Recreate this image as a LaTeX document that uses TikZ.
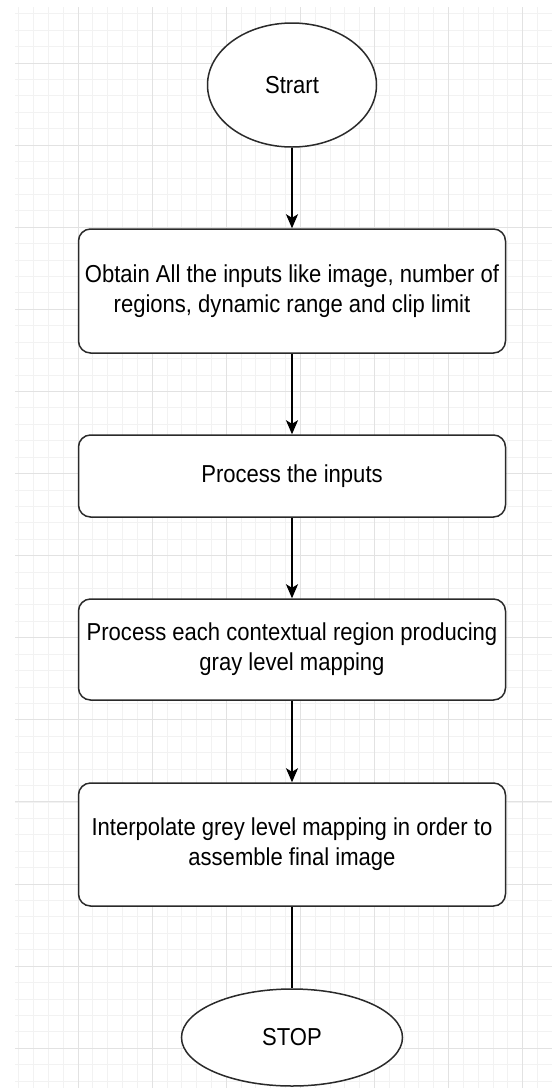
\documentclass[tikz,border=0pt]{standalone}
\usepackage{fontspec}
\setmainfont{Liberation Sans}[FakeStretch=0.9]
\usetikzlibrary{arrows.meta,shapes.geometric}
\definecolor{gridminor}{HTML}{F2F2F2}
\definecolor{gridmajor}{HTML}{E2E2E2}
\definecolor{edge}{HTML}{2A2A2A}
\tikzset{
  minorline/.style={draw=gridminor, line width=0.8pt},
  majorline/.style={draw=gridmajor, line width=1pt},
  terminal/.style={ellipse, draw=edge, line width=1.5pt, fill=white, inner sep=0pt,
    font=\fontsize{24.5}{30}\selectfont, text=black},
  stepbox/.style={rectangle, rounded corners=12pt, draw=edge, line width=1.5pt, fill=white,
    minimum width=427pt, inner sep=0pt, align=center,
    font=\fontsize{24.5}{30}\selectfont, text=black},
  flow/.style={draw=black, line width=1.5pt, -{Stealth[length=14pt,width=12pt,inset=3.5pt]}},
  plainflow/.style={draw=black, line width=1.5pt}
}
\begin{document}
\begin{tikzpicture}[x=1pt,y=-1pt]
\useasboundingbox (0,0) rectangle (552,1088);
\fill[white] (0,0) rectangle (552,1088);
\begin{scope}
  \clip (15,7) rectangle (552,1088);
  \foreach \i in {-5,...,33} \draw[minorline] ({78+14.82*\i},7) -- ({78+14.82*\i},1088);
  \foreach \i in {-4,...,63} \draw[minorline] (15,{63+16.42*\i}) -- (552,{63+16.42*\i});
  \foreach \i in {-1,...,7} \draw[majorline] ({78+74.1*\i},7) -- ({78+74.1*\i},1088);
  \foreach \i in {-1,...,13} \draw[majorline] (15,{63+82.1*\i}) -- (552,{63+82.1*\i});
\end{scope}

\node[terminal, minimum width=169pt, minimum height=124pt] (start) at (292,85) {Strart};
\node[stepbox, minimum height=124pt] (obtain) at (292,291) {Obtain All the inputs like image, number of\\regions, dynamic range and clip limit};
\node[stepbox, minimum height=82pt] (process) at (292,476) {Process the inputs};
\node[stepbox, minimum height=101pt] (region) at (292,649.5) {Process each contextual region producing\\gray level mapping};
\node[stepbox, minimum height=123pt] (interp) at (292,844.5) {Interpolate grey level mapping in order to\\assemble final image};
\node[terminal, minimum width=221pt, minimum height=97pt] (stop) at (292,1037.5) {STOP};

\draw[flow] (start) -- (obtain);
\draw[flow] (obtain) -- (process);
\draw[flow] (process) -- (region);
\draw[flow] (region) -- (interp);
\draw[plainflow] (interp) -- (stop);
\end{tikzpicture}
\end{document}
